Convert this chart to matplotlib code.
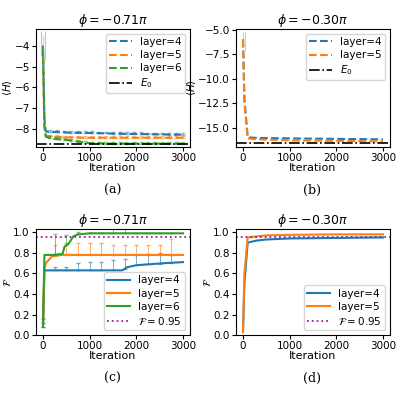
import matplotlib
matplotlib.use("Agg")
import matplotlib.pyplot as plt

plt.rcParams['font.family'] = 'DejaVu Sans'
plt.rcParams['mathtext.fontset'] = 'dejavusans'

# ---- data ----
it_a = [0, 30, 60, 200, 500, 1000, 1500, 2000, 2500, 3000]
H_a4 = [-4.2, -7.5, -8.1, -8.12, -8.15, -8.17, -8.2, -8.22, -8.24, -8.25]
H_a5 = [-4.5, -7.8, -8.3, -8.35, -8.38, -8.4, -8.4, -8.4, -8.4, -8.4]
H_a6 = [-4.0, -7.9, -8.35, -8.45, -8.5, -8.66, -8.68, -8.68, -8.68, -8.68]
E0_a = -8.68
err_it = [150, 300, 450, 600, 750, 900, 1050, 1200, 1350, 1500, 1650, 1800,
          1950, 2100, 2250, 2400, 2550, 2700, 2850, 3000]

it_b = [0, 30, 100, 300, 1000, 2000, 3000]
H_b4 = [-6.0, -12.0, -16.0, -16.05, -16.1, -16.15, -16.2]
H_b5 = [-6.0, -12.5, -16.1, -16.2, -16.3, -16.35, -16.4]
E0_b = -16.6

it_c = [0, 30, 60, 200, 420, 460, 550, 650, 750, 1000, 1700, 1800, 2000, 2300, 2600, 3000]
F_c4 = [0.08, 0.63, 0.63, 0.63, 0.63, 0.63, 0.63, 0.63, 0.63, 0.63, 0.63, 0.66, 0.68, 0.69, 0.70, 0.71]
F_c5 = [0.12, 0.64, 0.70, 0.77, 0.78, 0.78, 0.78, 0.78, 0.78, 0.78, 0.78, 0.78, 0.78, 0.78, 0.78, 0.78]
F_c6 = [0.08, 0.78, 0.78, 0.78, 0.79, 0.86, 0.89, 0.96, 0.98, 0.99, 0.99, 0.99, 0.99, 0.99, 0.99, 0.99]
c_err_it = [0, 250, 500, 750, 1000, 1250, 1500, 1750, 2000, 2250, 2500, 2750]
c_err4 = [0.04, 0.03, 0.03, 0.07, 0.08, 0.08, 0.1, 0.1, 0.1, 0.1, 0.1, 0.08]
c_err5 = [0.05, 0.1, 0.12, 0.12, 0.12, 0.12, 0.1, 0.1, 0.1, 0.1, 0.1, 0.15]
c_err6 = [0.08, 0.2, 0.1, 0.02, 0.0, 0.0, 0.1, 0.1, 0.0, 0.0, 0.0, 0.0]

it_d = [0, 30, 100, 300, 500, 1000, 2000, 3000]
F_d4 = [0.03, 0.5, 0.9, 0.92, 0.93, 0.94, 0.945, 0.95]
F_d5 = [0.03, 0.6, 0.95, 0.96, 0.97, 0.975, 0.98, 0.98]

F_ticks = [0.0, 0.2, 0.4, 0.6, 0.8, 1.0]

blue, orange, green = '#1f77b4', '#ff7f0e', '#2ca02c'

fig = plt.figure(figsize=(4, 4), dpi=100)
ax_a = fig.add_axes([0.09, 0.632, 0.385, 0.296])
ax_b = fig.add_axes([0.59, 0.632, 0.385, 0.296])
ax_c = fig.add_axes([0.09, 0.162, 0.385, 0.265])
ax_d = fig.add_axes([0.59, 0.162, 0.385, 0.265])

def interp(xs, ys, x):
    for i in range(len(xs) - 1):
        if xs[i] <= x <= xs[i + 1]:
            t = (x - xs[i]) / (xs[i + 1] - xs[i])
            return ys[i] + t * (ys[i + 1] - ys[i])
    return ys[-1]

leg_kw = dict(fontsize=7.5, handlelength=2.2, labelspacing=0.3, borderpad=0.3)

# (a)
for ys, c, lab in [(H_a4, blue, 'layer=4'), (H_a5, orange, 'layer=5'), (H_a6, green, 'layer=6')]:
    ax_a.plot(it_a, ys, '--', color=c, lw=1.5, label=lab)
    ye = [interp(it_a, ys, x) for x in err_it]
    ax_a.errorbar(err_it, ye, yerr=[[0.0] * len(ye), [0.08] * len(ye)],
                  fmt='none', ecolor=c, alpha=0.5, lw=0.7, capsize=1.5)
ax_a.errorbar([-40], [-3.9], yerr=[0.6], fmt='none', ecolor=blue, alpha=0.4, lw=0.8)
ax_a.errorbar([0], [-4.3], yerr=[0.8], fmt='none', ecolor=orange, alpha=0.4, lw=0.8)
ax_a.errorbar([50], [-4.0], yerr=[0.7], fmt='none', ecolor=green, alpha=0.4, lw=0.8)
ax_a.axhline(E0_a, color='k', ls='-.', lw=1.2, label='$E_0$')
ax_a.set_xlim(-150, 3150)
ax_a.set_ylim(-8.85, -3.2)
ax_a.set_yticks([-8, -7, -6, -5, -4])
ax_a.set_title(r'$\phi=-0.71\pi$', fontsize=9, pad=3)
ax_a.set_ylabel(r'$\langle H\rangle$', fontsize=7.5, labelpad=0)
ax_a.set_xlabel('Iteration', fontsize=8, labelpad=0)
ax_a.legend(loc='upper right', **leg_kw)

# (b)
for ys, c, lab in [(H_b4, blue, 'layer=4'), (H_b5, orange, 'layer=5')]:
    ax_b.plot(it_b, ys, '--', color=c, lw=1.5, label=lab)
ax_b.errorbar([0, 50], [-6.0, -6.2], yerr=[0.8, 1.0], fmt='none', ecolor=orange, alpha=0.5, lw=0.8)
ax_b.axhline(E0_b, color='k', ls='-.', lw=1.2, label='$E_0$')
ax_b.set_xlim(-150, 3150)
ax_b.set_ylim(-17.0, -4.9)
ax_b.set_yticks([-15, -12.5, -10, -7.5, -5])
ax_b.set_title(r'$\phi=-0.30\pi$', fontsize=9, pad=3)
ax_b.set_ylabel(r'$\langle H\rangle$', fontsize=7.5, labelpad=0)
ax_b.set_xlabel('Iteration', fontsize=8, labelpad=0)
ax_b.legend(loc='upper right', **leg_kw)

# (c)
for ys, e, c, lab in [(F_c4, c_err4, blue, 'layer=4'), (F_c5, c_err5, orange, 'layer=5'),
                      (F_c6, c_err6, green, 'layer=6')]:
    ax_c.plot(it_c, ys, '-', color=c, lw=1.5, label=lab)
    ye = [interp(it_c, ys, x) for x in c_err_it]
    ax_c.errorbar(c_err_it, ye, yerr=[[0.0] * len(ye), e], fmt='none',
                  ecolor=c, alpha=0.6, lw=0.7, capsize=1.5)
ax_c.axhline(0.95, color='#a020a0', ls=':', lw=1.3, label=r'$\mathcal{F}=0.95$')
ax_c.set_xlim(-150, 3150)
ax_c.set_ylim(0, 1.03)
ax_c.set_yticks(F_ticks)
ax_c.set_title(r'$\phi=-0.71\pi$', fontsize=9, pad=3)
ax_c.set_ylabel(r'$\mathcal{F}$', fontsize=7.5, labelpad=0)
ax_c.set_xlabel('Iteration', fontsize=8, labelpad=0)
ax_c.legend(loc='lower right', **leg_kw)

# (d)
for ys, c, lab in [(F_d4, blue, 'layer=4'), (F_d5, orange, 'layer=5')]:
    ax_d.plot(it_d, ys, '-', color=c, lw=1.5, label=lab)
ax_d.axhline(0.95, color='#a020a0', ls=':', lw=1.3, label=r'$\mathcal{F}=0.95$')
ax_d.set_xlim(-150, 3150)
ax_d.set_ylim(0, 1.03)
ax_d.set_yticks(F_ticks)
ax_d.set_title(r'$\phi=-0.30\pi$', fontsize=9, pad=3)
ax_d.set_ylabel(r'$\mathcal{F}$', fontsize=7.5, labelpad=0)
ax_d.set_xlabel('Iteration', fontsize=8, labelpad=0)
ax_d.legend(loc='lower right', **leg_kw)

for ax in (ax_a, ax_b, ax_c, ax_d):
    ax.tick_params(labelsize=7.5, length=3, pad=1.5)

fig.text(0.282, 0.515, '(a)', ha='center', fontsize=9, family='DejaVu Serif')
fig.text(0.78, 0.515, '(b)', ha='center', fontsize=9, family='DejaVu Serif')
fig.text(0.282, 0.045, '(c)', ha='center', fontsize=9, family='DejaVu Serif')
fig.text(0.78, 0.045, '(d)', ha='center', fontsize=9, family='DejaVu Serif')

fig.savefig('out.png', dpi=100)
